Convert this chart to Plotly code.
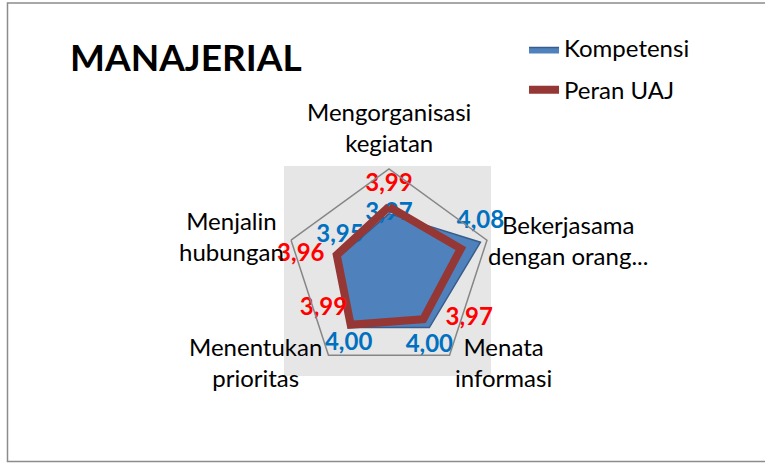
import plotly.graph_objects as go

categories = ["Mengorganisasi<br>kegiatan", "Bekerjasama<br>dengan orang...", "Menata<br>informasi",
              "Menentukan<br>prioritas", "Menjalin<br>hubungan"]
kompetensi = [3.97, 4.08, 4.00, 4.00, 3.95]
peran_uaj = [3.99, 4.02, 3.97, 3.99, 3.96]
kompetensi_labels = ["3,97", "4,08", "4,00", "4,00", "3,95"]
peran_labels = ["3,99", "", "3,97", "3,99", "3,96"]

FONT = "Lato"

# layout-only placement of the category captions (paper px)
label_pos = [(389, 127), (568, 240), (503, 362), (256, 362), (232, 236)]

def closed(a):
    return list(a) + [a[0]]

def bold_labels(a):
    return ["<b>%s</b>" % t if t else "" for t in a] + [""]

fig = go.Figure()
fig.add_trace(go.Scatterpolar(
    r=closed(kompetensi), theta=closed(categories), name="Kompetensi",
    mode="lines+markers+text", fill="toself", fillcolor="#4F81BD",
    line=dict(color="#385D8A", width=1.5),
    marker=dict(color="rgba(0,0,0,0)", size=[2, 12, 8, 6, 12, 2], line=dict(width=0)),
    text=bold_labels(kompetensi_labels),
    textposition=["middle center", "top center", "bottom center", "bottom center", "top center", "middle center"],
    textfont=dict(family=FONT, size=24, color="#0070C0"),
    legendgroup="a", hoverinfo="skip",
))
fig.add_trace(go.Scatterpolar(
    r=closed(peran_uaj), theta=closed(categories), name="Peran UAJ",
    mode="lines+markers+text",
    line=dict(color="#953735", width=8),
    marker=dict(color="rgba(0,0,0,0)", size=[14, 2, 34, 4, 18, 2], line=dict(width=0)),
    text=bold_labels(peran_labels),
    textposition=["top center", "top right", "middle right", "top left", "middle left", "top center"],
    textfont=dict(family=FONT, size=24, color="#FF0000"),
    legendgroup="b", hoverinfo="skip",
))

dx0, dx1 = 286 / 765, 492 / 765
dy0, dy1 = (463 - 375) / 463, (463 - 169) / 463

annotations = [
    dict(text=c, x=px / 765, y=1 - py / 463, xref="paper", yref="paper", showarrow=False,
         xanchor="center", yanchor="middle", align="center",
         font=dict(family=FONT, size=24, color="black"))
    for c, (px, py) in zip(categories, label_pos)
]

fig.update_layout(
    width=765, height=463,
    margin=dict(l=0, r=0, t=0, b=0),
    paper_bgcolor="white",
    font=dict(family=FONT, size=22, color="black"),
    title=dict(text="<b>MANAJERIAL</b>", x=70 / 765, xanchor="left", y=1 - 58 / 463, yanchor="middle",
               font=dict(family=FONT, size=37, color="black")),
    legend=dict(x=0.685, y=0.945, xanchor="left", yanchor="top", bgcolor="rgba(0,0,0,0)",
                font=dict(family=FONT, size=24), tracegroupgap=8),
    polar=dict(
        domain=dict(x=[dx0, dx1], y=[dy0, dy1]),
        bgcolor="rgba(0,0,0,0)",
        gridshape="linear",
        radialaxis=dict(range=[3.8, 4.1], visible=False, showgrid=False),
        angularaxis=dict(direction="clockwise", rotation=90, showgrid=False, showline=True,
                         linecolor="#868686", linewidth=1.5, ticks="", showticklabels=False),
    ),
    annotations=annotations,
    shapes=[
        dict(type="rect", xref="paper", yref="paper", x0=284 / 765, x1=491 / 765,
             y0=(463 - 376) / 463, y1=(463 - 166) / 463, fillcolor="#E6E6E6",
             line=dict(width=0), layer="below"),
        dict(type="rect", xref="paper", yref="paper", x0=7.5 / 765, x1=1.05,
             y0=(463 - 461.5) / 463, y1=(463 - 3) / 463, fillcolor="rgba(0,0,0,0)",
             line=dict(color="#8C8C8C", width=1.5), layer="below"),
    ],
)

fig.write_html("out.html", config={"displayModeBar": False},
               post_script="document.body.style.margin='0';")
